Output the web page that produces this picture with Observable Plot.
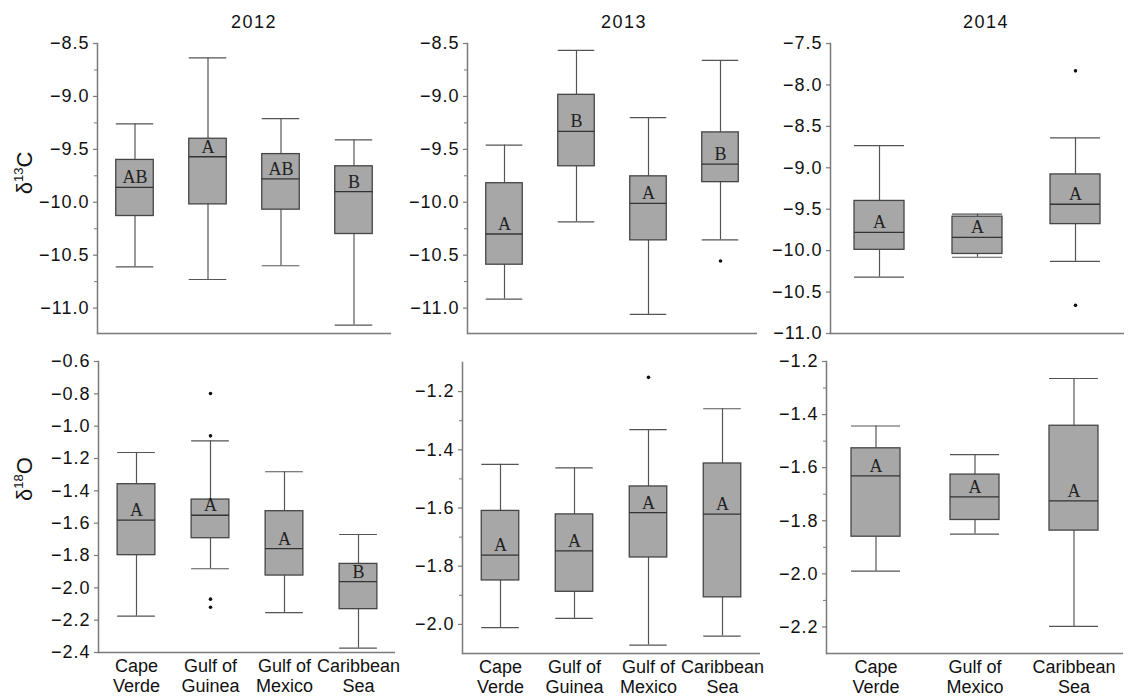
<!DOCTYPE html>
<html><head><meta charset="utf-8">
<script src="https://cdn.jsdelivr.net/npm/d3@7"></script>
<script src="https://cdn.jsdelivr.net/npm/@observablehq/plot@0.6"></script>
<style>
body{margin:0;background:#fff;}
#fig{position:relative;width:1130px;height:698px;overflow:hidden;font-family:"Liberation Sans",Arial,sans-serif;color:#111;background:#fff;}
.panel{position:absolute;}
.panel g[aria-label="y-axis tick label"] text{letter-spacing:1px;}
.title{position:absolute;font-size:18px;line-height:18px;letter-spacing:1.5px;transform:translateX(-50%);white-space:nowrap;}
.ylab{position:absolute;font-size:22px;line-height:22px;transform:translate(-50%,-50%) rotate(-90deg);white-space:nowrap;}
.ylab .sup{font-size:13px;position:relative;top:-9px;}
</style>
</head><body>
<div id="fig">
  <div class="title" style="left:254px;top:13px">2012</div>
  <div class="title" style="left:624px;top:13px">2013</div>
  <div class="title" style="left:986px;top:13px">2014</div>
  <div class="ylab" style="left:26px;top:173px">δ<span class="sup">13</span>C</div>
  <div class="ylab" style="left:26px;top:479px">δ<span class="sup">18</span>O</div>
</div>
<script>
// ---- categories and tick labels ----
const cats4 = ["Cape Verde", "Gulf of Guinea", "Gulf of Mexico", "Caribbean Sea"];
const cats3 = ["Cape Verde", "Gulf of Mexico", "Caribbean Sea"];
const xTickLabels4 = ["Cape\nVerde", "Gulf of\nGuinea", "Gulf of\nMexico", "Caribbean\nSea"];
const xTickLabels3 = ["Cape\nVerde", "Gulf of\nMexico", "Caribbean\nSea"];

// ---- box statistics: [min whisker, Q1, median, Q3, max whisker] ----
const c13_2012 = [[-10.61, -10.13, -9.86, -9.60, -9.26], [-10.73, -10.02, -9.57, -9.40, -8.635], [-10.60, -10.07, -9.78, -9.545, -9.21], [-11.16, -10.30, -9.90, -9.66, -9.41]];
const c13_2013 = [[-10.915, -10.59, -10.30, -9.82, -9.46], [-10.185, -9.66, -9.33, -8.985, -8.565], [-11.06, -10.36, -10.01, -9.755, -9.20], [-10.355, -9.81, -9.64, -9.34, -8.66]];
const c13_2014 = [[-10.32, -9.99, -9.78, -9.40, -8.733], [-10.08, -10.04, -9.84, -9.59, -9.56], [-10.13, -9.68, -9.44, -9.08, -8.64]];
const o18_2012 = [[-2.175, -1.798, -1.581, -1.359, -1.163], [-1.882, -1.693, -1.551, -1.454, -1.091], [-2.153, -1.924, -1.757, -1.526, -1.282], [-2.373, -2.132, -1.961, -1.852, -1.67]];
const o18_2013 = [[-2.011, -1.849, -1.762, -1.610, -1.450], [-1.979, -1.888, -1.747, -1.622, -1.462], [-2.071, -1.770, -1.616, -1.526, -1.331], [-2.040, -1.907, -1.621, -1.447, -1.259]];
const o18_2014 = [[-1.990, -1.860, -1.631, -1.527, -1.443], [-1.850, -1.797, -1.710, -1.626, -1.551], [-2.198, -1.837, -1.725, -1.442, -1.264]];

// ---- outliers: [category, value] ----
const out13_2012 = [];
const out13_2013 = [["Caribbean Sea", -10.555]];
const out13_2014 = [["Caribbean Sea", -7.83], ["Caribbean Sea", -10.66]];
const out18_2012 = [["Gulf of Guinea", -0.798], ["Gulf of Guinea", -1.06], ["Gulf of Guinea", -2.07], ["Gulf of Guinea", -2.12]];
const out18_2013 = [["Gulf of Mexico", -1.151]];
const out18_2014 = [];

// ---- significance letters ----
const let13_2012 = ["AB", "A", "AB", "B"];
const let13_2013 = ["A", "B", "A", "B"];
const let13_2014 = ["A", "A", "A"];
const let18_2012 = ["A", "A", "A", "B"];
const let18_2013 = ["A", "A", "A", "A"];
const let18_2014 = ["A", "A", "A"];

// ---- y ticks ----
const yMajorC12 = [-11.0, -10.5, -10.0, -9.5, -9.0, -8.5];
const yMinorC12 = [-10.75, -10.25, -9.75, -9.25, -8.75];
const yMajorC14 = [-11.0, -10.5, -10.0, -9.5, -9.0, -8.5, -8.0, -7.5];
const yMajorO12 = [-2.4, -2.2, -2.0, -1.8, -1.6, -1.4, -1.2, -1.0, -0.8, -0.6];
const yMajorO13 = [-2.0, -1.8, -1.6, -1.4, -1.2];
const yMinorO13 = [-1.9, -1.7, -1.5, -1.3];
const yMajorO14 = [-2.2, -2.0, -1.8, -1.6, -1.4, -1.2];
const yMinorO14 = [-2.1, -1.9, -1.7, -1.5, -1.3];

const AXIS = "#7a7a7a";
const fmt = d3.format(".1f");

function panel(o) {
  const rows = o.cats.map((c, i) => ({cat: c, min: o.stats[i][0], q1: o.stats[i][1], med: o.stats[i][2], q3: o.stats[i][3], max: o.stats[i][4], letter: o.letters[i]}));
  const outs = o.outliers.map(([cat, value]) => ({cat, value}));
  const step = (o.w - o.ml - o.mr) / o.cats.length;
  const inset = (step - o.boxW) / 2;
  const labelOf = new Map(o.cats.map((c, i) => [c, o.xLabels ? o.xLabels[i] : c]));
  const marks = [
    Plot.ruleX(rows, {x: "cat", y1: "min", y2: "q1", stroke: "#555", strokeWidth: 1.2}),
    Plot.ruleX(rows, {x: "cat", y1: "q3", y2: "max", stroke: "#555", strokeWidth: 1.2}),
    Plot.tickY(rows, {x: "cat", y: "min", insetLeft: inset, insetRight: inset, stroke: "#555", strokeWidth: 1.2}),
    Plot.tickY(rows, {x: "cat", y: "max", insetLeft: inset, insetRight: inset, stroke: "#555", strokeWidth: 1.2}),
    Plot.barY(rows, {x: "cat", y1: "q1", y2: "q3", fill: "#a7a7a7", stroke: "#454545", strokeWidth: 1.3, insetLeft: inset, insetRight: inset}),
    Plot.tickY(rows, {x: "cat", y: "med", insetLeft: inset, insetRight: inset, stroke: "#333", strokeWidth: 1.3}),
    Plot.dot(outs, {x: "cat", y: "value", r: 1.8, fill: "#111", stroke: null}),
    Plot.text(rows, {x: "cat", y: "med", text: "letter", lineAnchor: "bottom", dy: -4, fontFamily: "Liberation Serif, Times New Roman, serif", fontSize: 18, fill: "#222"}),
    o.minor ? Plot.axisY(o.minor, {tickSize: 3, fill: "none", label: null, stroke: AXIS, strokeWidth: 1}) : null,
    Plot.axisY(o.major, {tickSize: 4, tickPadding: 4, tickFormat: fmt, label: null, fontSize: 18, stroke: AXIS, strokeWidth: 1.2, fill: "#111"}),
    Plot.frame({anchor: "left", stroke: AXIS, strokeWidth: 1.5}),
    Plot.ruleY([o.yDomain[0]], {stroke: AXIS, strokeWidth: 1.5}),
    o.xLabels ? Plot.axisX({tickSize: 0, tickPadding: 5, label: null, tickFormat: d => labelOf.get(d), fontSize: 18, lineHeight: 1.11, fill: "#111"}) : null
  ];
  const chart = Plot.plot({
    width: o.w, height: o.h,
    marginLeft: o.ml, marginRight: o.mr, marginTop: o.mt, marginBottom: o.mb,
    style: {fontFamily: "Liberation Sans, Arial, sans-serif", background: "transparent", overflow: "visible", color: "#111"},
    x: {domain: o.cats, padding: 0, axis: null},
    y: {domain: o.yDomain, axis: null},
    marks
  });
  const div = document.createElement("div");
  div.className = "panel";
  div.style.left = o.left + "px";
  div.style.top = o.top + "px";
  div.appendChild(chart);
  document.getElementById("fig").appendChild(div);
}

// top row: δ13C
panel({cats: cats4, stats: c13_2012, letters: let13_2012, outliers: out13_2012, yDomain: [-11.24, -8.5], major: yMajorC12, minor: yMinorC12,
  left: 40, top: 30, w: 359, h: 310, ml: 57, mr: 8, mt: 13, mb: 7, boxW: 38});
panel({cats: cats4, stats: c13_2013, letters: let13_2013, outliers: out13_2013, yDomain: [-11.24, -8.5], major: yMajorC12, minor: yMinorC12,
  left: 410, top: 30, w: 355, h: 310, ml: 57, mr: 8, mt: 13, mb: 7, boxW: 37});
panel({cats: cats3, stats: c13_2014, letters: let13_2014, outliers: out13_2014, yDomain: [-11.0, -7.5], major: yMajorC14, minor: null,
  left: 773, top: 30, w: 356, h: 310, ml: 57, mr: 5, mt: 13, mb: 7, boxW: 50});
// bottom row: δ18O
panel({cats: cats4, stats: o18_2012, letters: let18_2012, outliers: out18_2012, yDomain: [-2.4, -0.6], major: yMajorO12, minor: null, xLabels: xTickLabels4,
  left: 40, top: 345, w: 363, h: 353, ml: 58, mr: 8, mt: 16, mb: 46, boxW: 38});
panel({cats: cats4, stats: o18_2013, letters: let18_2013, outliers: out18_2013, yDomain: [-2.1, -1.1], major: yMajorO13, minor: yMinorO13, xLabels: xTickLabels4,
  left: 405, top: 345, w: 360, h: 353, ml: 57, mr: 5, mt: 17, mb: 45, boxW: 38});
panel({cats: cats3, stats: o18_2014, letters: let18_2014, outliers: out18_2014, yDomain: [-2.3, -1.2], major: yMajorO14, minor: yMinorO14, xLabels: xTickLabels3,
  left: 769, top: 345, w: 359, h: 353, ml: 57, mr: 5, mt: 16, mb: 45, boxW: 49});
</script>
</body></html>
